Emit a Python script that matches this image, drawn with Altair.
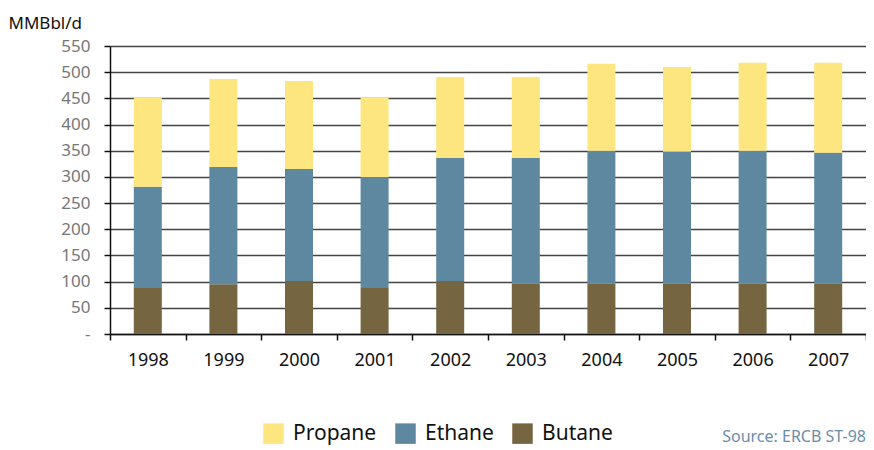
import altair as alt
import pandas as pd

years = ["1998", "1999", "2000", "2001", "2002", "2003", "2004", "2005", "2006", "2007"]
butane = [88, 95, 101, 88, 101, 96, 96, 96, 96, 96]
ethane = [193, 224, 214, 212, 235, 240, 254, 252, 254, 250]
propane = [171, 168, 168, 152, 155, 155, 166, 162, 168, 172]
series = ["Propane", "Ethane", "Butane"]
colors = ["#FDE57F", "#5E87A0", "#766541"]
source_note = ["Source: ERCB ST-98"]

rows = []
for i, y in enumerate(years):
    rows.append({"year": y, "series": "Butane", "value": butane[i], "ord": 0})
    rows.append({"year": y, "series": "Ethane", "value": ethane[i], "ord": 1})
    rows.append({"year": y, "series": "Propane", "value": propane[i], "ord": 2})
df = pd.DataFrame(rows)

FONT = "Noto Sans"

bars = alt.Chart(df).mark_bar(size=28).encode(
    x=alt.X("year:N", title=None, sort=years,
            scale=alt.Scale(paddingInner=0, paddingOuter=0),
            axis=alt.Axis(labelAngle=0, labelFont=FONT, labelFontSize=18, labelColor="#111",
                          tickBand="extent", tickSize=6, tickColor="#111", tickWidth=1.5,
                          domainColor="#111", domainWidth=1.5, labelPadding=11, grid=False)),
    y=alt.Y("value:Q", stack="zero",
            scale=alt.Scale(domain=[0, 550], nice=False),
            axis=alt.Axis(values=list(range(0, 551, 50)), title="MMBbl/d", titleAngle=0,
                          titleAlign="left", titleBaseline="middle", titleX=-102, titleY=-23,
                          titleFont=FONT, titleFontSize=17, titleFontWeight="normal", titleColor="#111",
                          labelFont=FONT, labelFontSize=17, labelColor="#777", labelPadding=14,
                          labelExpr="datum.value == 0 ? '-' : datum.label",
                          tickSize=6, tickColor="#111", tickWidth=1.5,
                          domainColor="#111", domainWidth=1.5,
                          grid=True, gridColor="#444", gridWidth=1.5)),
    color=alt.Color("series:N", sort=series,
                    scale=alt.Scale(domain=series, range=colors),
                    legend=alt.Legend(title=None, orient="none", legendX=153, legendY=377,
                                      direction="horizontal", columns=3, symbolType="square",
                                      symbolSize=420, symbolStrokeWidth=0, labelFont=FONT,
                                      labelFontSize=21, labelColor="#111", columnPadding=18,
                                      labelOffset=9)),
    order=alt.Order("ord:Q"),
)

note = alt.Chart(pd.DataFrame({"t": source_note})).mark_text(
    align="right", baseline="middle", font=FONT, fontSize=16, color="#6A8DA8"
).encode(text="t:N", x=alt.value(756), y=alt.value(391))

chart = alt.layer(bars, note).properties(
    width=756, height=288,
    autosize=alt.AutoSizeParams(type="none"),
    padding={"left": 102, "top": 38, "right": 0, "bottom": 120},
).configure_view(stroke=None)

chart.save("out.html", embed_options={"renderer": "svg", "actions": False})
